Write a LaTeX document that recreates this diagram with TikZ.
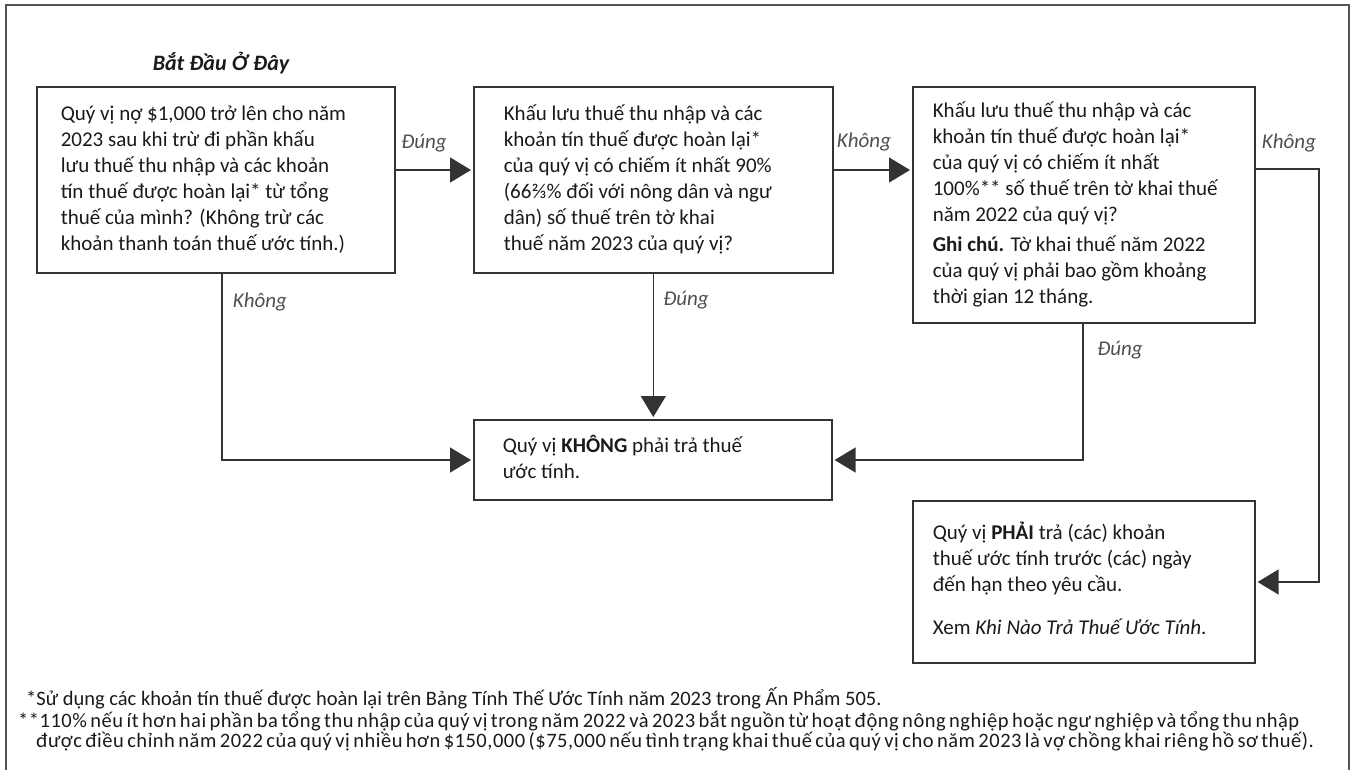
\documentclass[tikz,border=0pt]{standalone}
\usepackage{fontspec}
\setmainfont{Carlito}
\usetikzlibrary{arrows.meta}
\definecolor{ln}{HTML}{333333}
\definecolor{frm}{HTML}{555555}
\definecolor{lbl}{HTML}{505050}
\definecolor{txt}{HTML}{1A1A1A}
\newcommand{\boxlines}[2]{\makebox[#1][l]{\begin{tabular}{@{}l@{}}#2\end{tabular}}}
\begin{document}
\begin{tikzpicture}[x=1pt,y=-1pt,
  box/.style={draw=ln, line width=1.6pt, anchor=north west, inner ysep=0pt,
    text=txt, font=\fontsize{21}{26}\selectfont},
  arr/.style={draw=ln, line width=1.4pt, -{Triangle[length=21pt,width=25pt]}, shorten >=2pt},
  lab/.style={font=\fontsize{21}{22}\selectfont\itshape, text=lbl, inner sep=0pt},
  fn/.style={font=\fontsize{20.5}{22}\selectfont, text=txt, anchor=base west, inner sep=0pt},
  frame/.style={draw=frm, line width=1.8pt}]
\useasboundingbox (0,0) rectangle (1351,769);
\draw[frame] (6,775) -- (6,5) -- (1349,5) -- (1349,775);

\node[font=\fontsize{22}{24}\selectfont\bfseries\itshape, text=txt, inner sep=0pt] (title) at (221,63) {Bắt Đầu Ở Đây};

\node[box, minimum width=358pt, minimum height=186pt, inner xsep=24pt] (b1) at (36,86)
 {\boxlines{310pt}{Quý vị nợ \$1,000 trở lên cho năm\\
 2023 sau khi trừ đi phần khấu\\
 lưu thuế thu nhập và các khoản\\
 tín thuế được hoàn lại* từ tổng\\
 thuế của mình? (Không trừ các\\
 khoản thanh toán thuế ước tính.)}};

\node[box, minimum width=359pt, minimum height=186pt, inner xsep=30pt] (b2) at (473,86)
 {\boxlines{299pt}{Khấu lưu thuế thu nhập và các\\
 khoản tín thuế được hoàn lại*\\
 của quý vị có chiếm ít nhất 90\%\\
 (66⅔\% đối với nông dân và ngư\\
 dân) số thuế trên tờ khai\\
 thuế năm 2023 của quý vị?}};

\node[box, minimum width=342pt, minimum height=236pt, inner xsep=20pt] (b3) at (912,86)
 {\boxlines{302pt}{Khấu lưu thuế thu nhập và các\\
 khoản tín thuế được hoàn lại*\\
 của quý vị có chiếm ít nhất\\
 100\%** số thuế trên tờ khai thuế\\
 năm 2022 của quý vị?\\[4pt]
 \textbf{Ghi chú.} Tờ khai thuế năm 2022\\
 của quý vị phải bao gồm khoảng\\
 thời gian 12 tháng.}};

\node[box, minimum width=358pt, minimum height=80pt, inner xsep=29pt] (b4) at (473,419)
 {\boxlines{300pt}{Quý vị \textbf{KHÔNG} phải trả thuế\\
 ước tính.}};

\node[box, minimum width=342pt, minimum height=162pt, inner xsep=20pt] (b5) at (912,500)
 {\boxlines{302pt}{Quý vị \textbf{PHẢI} trả (các) khoản\\
 thuế ước tính trước (các) ngày\\
 đến hạn theo yêu cầu.\\[17pt]
 Xem \textit{Khi Nào Trả Thuế Ước Tính}.}};

\coordinate (c1) at (222,460);
\coordinate (c2) at (1083,460);
\coordinate (c3) at (1319,582);

\draw[arr] (b1.east |- 0,170) -- (b2.west |- 0,170);
\draw[arr] (b2.east |- 0,170) -- (b3.west |- 0,170);
\draw[arr] (b3.east |- 0,169) -| (c3) -- (b5.east |- c3);
\draw[arr] (b1.south -| c1) -- (c1) -- (b4.west |- c1);
\draw[arr] (b2.south) -- (b2.south |- b4.north);
\draw[arr] (b3.south -| c2) -- (c2) -- (b4.east |- c2);

\node[lab] (l1) at (424,143) {Đúng};
\node[lab] (l2) at (864,142) {Không};
\node[lab] (l3) at (1289,143) {Không};
\node[lab] (l4) at (260,302) {Không};
\node[lab] (l5) at (686,300) {Đúng};
\node[lab] (l6) at (1120,350) {Đúng};

\node[fn] (f1) at (26,705) {*Sử dụng các khoản tín thuế được hoàn lại trên Bảng Tính Thế Ước Tính năm 2023 trong Ấn Phẩm 505.};
\node[fn] (f2) at (18,727) {\addfontfeature{LetterSpace=2.5}\makebox[1215pt][s]{**110\% nếu ít hơn hai phần ba tổng thu nhập của quý vị trong năm 2022 và 2023 bắt nguồn từ hoạt động nông nghiệp hoặc ngư nghiệp và tổng thu nhập}};
\node[fn] (f3) at (36,747) {\addfontfeature{LetterSpace=2.5}\makebox[1201pt][s]{được điều chỉnh năm 2022 của quý vị nhiều hơn \$150,000 (\$75,000 nếu tình trạng khai thuế của quý vị cho năm 2023 là vợ chồng khai riêng hồ sơ thuế).}};
\end{tikzpicture}
\end{document}
